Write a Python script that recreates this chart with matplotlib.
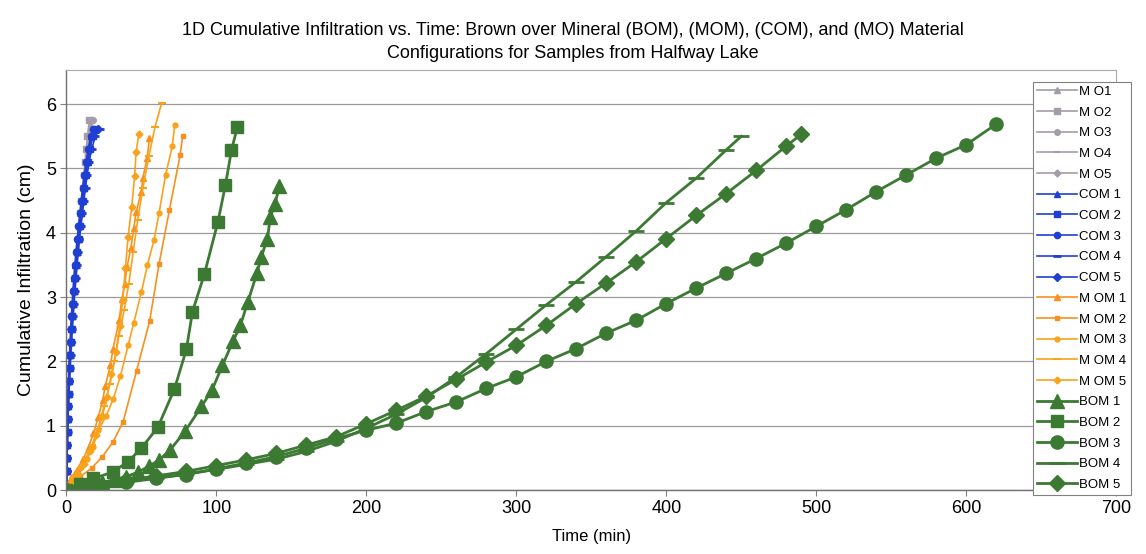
import matplotlib
matplotlib.use("Agg")
import matplotlib.pyplot as plt

plt.rcParams['font.family'] = ['Liberation Sans', 'DejaVu Sans']

# MO samples (grey), cumulative infiltration (cm) vs time (min)
mo_y = [0.1, 0.3, 0.5, 0.7, 0.9, 1.1, 1.3, 1.5, 1.7, 1.9, 2.1, 2.3, 2.5, 2.7, 2.9,
        3.1, 3.3, 3.5, 3.7, 3.9, 4.1, 4.3, 4.5, 4.7, 4.9, 5.1, 5.3, 5.5, 5.75]
mo1_t = [0, 0.2, 0.3, 0.5, 0.7, 0.9, 1.2, 1.5, 1.9, 2.3, 2.7, 3.2, 3.7, 4.2, 4.8,
         5.4, 6.0, 6.7, 7.4, 8.2, 9.0, 9.8, 10.6, 11.4, 12.2, 13.0, 13.9, 14.8, 16.2]
mo2_t = [0, 0.1, 0.2, 0.4, 0.6, 0.8, 1.0, 1.3, 1.6, 2.0, 2.4, 2.8, 3.3, 3.8, 4.3,
         4.9, 5.5, 6.1, 6.8, 7.5, 8.3, 9.1, 9.9, 10.7, 11.5, 12.3, 13.1, 14.0, 15.3]
mo3_t = [0, 0.2, 0.4, 0.6, 0.8, 1.0, 1.3, 1.7, 2.1, 2.5, 3.0, 3.5, 4.0, 4.6, 5.2,
         5.8, 6.5, 7.2, 8.0, 8.8, 9.6, 10.4, 11.3, 12.2, 13.1, 14.0, 15.0, 16.1, 17.5]
mo4_t = [0, 0.1, 0.3, 0.4, 0.6, 0.8, 1.1, 1.4, 1.8, 2.2, 2.6, 3.0, 3.5, 4.0, 4.6,
         5.2, 5.9, 6.6, 7.3, 8.1, 8.9, 9.7, 10.5, 11.3, 12.1, 13.0, 14.0, 15.0, 16.4]
mo5_t = [0, 0.2, 0.3, 0.5, 0.7, 1.0, 1.3, 1.6, 2.0, 2.4, 2.9, 3.4, 3.9, 4.4, 5.0,
         5.6, 6.3, 7.0, 7.8, 8.6, 9.4, 10.2, 11.0, 11.9, 12.8, 13.7, 14.6, 15.6, 17.0]

# COM samples (blue)
com_y = [0.1, 0.3, 0.5, 0.7, 0.9, 1.1, 1.3, 1.5, 1.7, 1.9, 2.1, 2.3, 2.5, 2.7, 2.9,
         3.1, 3.3, 3.5, 3.7, 3.9, 4.1, 4.3, 4.5, 4.7, 4.9, 5.1, 5.3, 5.5, 5.62]
com1_t = [0, 0.1, 0.2, 0.3, 0.5, 0.7, 0.9, 1.2, 1.5, 1.9, 2.3, 2.7, 3.1, 3.6, 4.1,
          4.7, 5.3, 6.0, 6.8, 7.7, 8.6, 9.5, 10.4, 11.4, 12.4, 13.5, 14.8, 16.5, 18.5]
com2_t = [0, 0.2, 0.3, 0.5, 0.7, 0.9, 1.1, 1.4, 1.7, 2.1, 2.5, 2.9, 3.4, 3.9, 4.5,
          5.1, 5.8, 6.5, 7.3, 8.2, 9.1, 10.0, 11.0, 12.0, 13.1, 14.3, 15.7, 17.4, 19.5]
com3_t = [0, 0.1, 0.1, 0.2, 0.4, 0.5, 0.7, 1.0, 1.3, 1.6, 2.0, 2.4, 2.8, 3.3, 3.8,
          4.3, 4.9, 5.6, 6.3, 7.1, 8.0, 8.9, 9.8, 10.8, 11.9, 13.1, 14.5, 16.2, 18.0]
com4_t = [0, 0.2, 0.4, 0.6, 0.8, 1.0, 1.3, 1.6, 2.0, 2.4, 2.8, 3.3, 3.8, 4.3, 4.9,
          5.5, 6.2, 6.9, 7.7, 8.6, 9.6, 10.6, 11.6, 12.7, 13.8, 15.1, 16.8, 19.2, 22.5]
com5_t = [0, 0.1, 0.3, 0.4, 0.6, 0.8, 1.0, 1.3, 1.6, 2.0, 2.4, 2.8, 3.2, 3.7, 4.3,
          4.9, 5.6, 6.3, 7.0, 7.9, 8.8, 9.8, 10.8, 11.9, 13.0, 14.2, 15.6, 17.5, 20.8]

# MOM samples (orange)
mom1_t = [0, 2.2, 6.7, 11.3, 14.7, 18, 21.3, 24.2, 25.8, 29.3, 31.1, 35.1, 37, 38.9,
          40.4, 42.9, 44.9, 46.4, 50, 50.9, 53.8, 55.3]
mom1_y = [0, 0.16, 0.31, 0.49, 0.67, 0.88, 1.14, 1.4, 1.61, 1.94, 2.2, 2.64, 2.97, 3.21,
          3.47, 3.76, 4.07, 4.32, 4.64, 4.85, 5.16, 5.47]
mom2_t = [0, 2, 8.9, 16.7, 24, 31.1, 37.8, 46.7, 55.5, 61.7, 68.7, 75.8, 77.5]
mom2_y = [0, 0.1, 0.2, 0.34, 0.52, 0.75, 1.06, 1.85, 2.63, 3.51, 4.36, 5.21, 5.5]
mom3_t = [0, 4, 8.9, 13.6, 17.6, 21.3, 26.4, 31.1, 36, 41.1, 44.9, 50, 54, 58.4, 61.7,
          66.1, 70.6, 72.2]
mom3_y = [0, 0.2, 0.34, 0.49, 0.67, 0.93, 1.15, 1.41, 1.77, 2.25, 2.6, 3.08, 3.5, 3.89,
          4.3, 4.9, 5.35, 5.68]
mom4_t = [0, 5, 9, 13, 17, 21, 25, 29, 32, 35, 38.5, 41.5, 44.5, 47.5, 51, 55, 59, 63.5]
mom4_y = [0, 0.18, 0.32, 0.5, 0.7, 0.95, 1.3, 1.65, 2.0, 2.4, 2.8, 3.2, 3.7, 4.2, 4.7,
          5.2, 5.64, 6.02]
mom5_t = [0, 4, 8, 12, 16, 20, 24, 27, 30, 33, 35.5, 37.5, 39.3, 41.1, 43.5, 45.5,
          46.4, 48.2]
mom5_y = [0, 0.12, 0.25, 0.4, 0.6, 0.85, 1.15, 1.45, 1.8, 2.15, 2.55, 2.95, 3.45, 3.94,
          4.4, 4.89, 5.25, 5.53]

# BOM samples (green)
bom1_t = [0, 8, 16, 24, 32, 40, 48, 55, 62, 69, 79, 90, 97, 104, 111, 116, 121, 127,
          130, 134, 136, 139, 142]
bom1_y = [0, 0.04, 0.08, 0.12, 0.16, 0.21, 0.28, 0.37, 0.47, 0.62, 0.91, 1.3, 1.55,
          1.94, 2.31, 2.56, 2.93, 3.37, 3.63, 3.91, 4.25, 4.45, 4.72]
bom2_t = [0, 9, 18, 31, 41, 50, 61, 72, 80, 84, 92, 101, 106, 110, 114]
bom2_y = [0, 0.1, 0.18, 0.28, 0.44, 0.65, 0.98, 1.57, 2.19, 2.77, 3.36, 4.17, 4.74,
          5.28, 5.65]
bom3_t = [0, 20, 40, 60, 80, 100, 120, 140, 160, 180, 200, 220, 240, 260, 280, 300,
          320, 340, 360, 380, 400, 420, 440, 460, 480, 500, 520, 540, 560, 580, 600, 620]
bom3_y = [0, 0.07, 0.13, 0.19, 0.24, 0.33, 0.42, 0.52, 0.65, 0.8, 0.93, 1.04, 1.22,
          1.37, 1.58, 1.76, 2.0, 2.2, 2.44, 2.64, 2.9, 3.14, 3.37, 3.6, 3.84, 4.1,
          4.36, 4.64, 4.9, 5.16, 5.37, 5.69]
bom4_t = [0, 20, 40, 60, 80, 100, 120, 140, 160, 180, 200, 220, 240, 260, 280, 300,
          320, 340, 360, 380, 400, 420, 440, 450]
bom4_y = [0, 0.06, 0.12, 0.18, 0.25, 0.32, 0.4, 0.48, 0.6, 0.76, 0.96, 1.18, 1.44,
          1.76, 2.12, 2.5, 2.88, 3.24, 3.63, 4.03, 4.47, 4.85, 5.29, 5.5]
bom5_t = [0, 20, 40, 60, 80, 100, 120, 140, 160, 180, 200, 220, 240, 260, 280, 300,
          320, 340, 360, 380, 400, 420, 440, 460, 480, 490]
bom5_y = [0, 0.08, 0.15, 0.22, 0.29, 0.38, 0.47, 0.57, 0.7, 0.83, 1.03, 1.24, 1.46,
          1.72, 1.99, 2.25, 2.56, 2.9, 3.22, 3.55, 3.91, 4.27, 4.61, 4.97, 5.35, 5.53]

grey = '#A59BAA'
blue = '#1F3FD2'
orange1 = '#F7901E'
orange2 = '#F9A21B'
green = '#3C7A34'

fig = plt.figure(figsize=(11.46, 5.54), dpi=100)
ax = fig.add_axes([0.058, 0.1155, 0.916, 0.758])

# MO
ax.plot(mo1_t, mo_y, color=grey, lw=1.2, marker='^', ms=4, label='M O1')
ax.plot(mo2_t, mo_y, color=grey, lw=1.2, marker='s', ms=4, label='M O2')
ax.plot(mo3_t, mo_y, color=grey, lw=1.2, marker='o', ms=4, label='M O3')
ax.plot(mo4_t, mo_y, color=grey, lw=1.2, marker='_', ms=5, mew=1.5, label='M O4')
ax.plot(mo5_t, mo_y, color=grey, lw=1.2, marker='D', ms=3.5, label='M O5')

# COM
ax.plot(com1_t, com_y, color=blue, lw=1.2, marker='^', ms=5, label='COM 1')
ax.plot(com2_t, com_y, color=blue, lw=1.2, marker='s', ms=4.5, label='COM 2')
ax.plot(com3_t, com_y, color=blue, lw=1.2, marker='o', ms=4.5, label='COM 3')
ax.plot(com4_t, com_y, color=blue, lw=1.2, marker='_', ms=6, mew=2, label='COM 4')
ax.plot(com5_t, com_y, color=blue, lw=1.2, marker='D', ms=4.5, label='COM 5')

# MOM
ax.plot(mom1_t, mom1_y, color=orange1, lw=1.2, marker='^', ms=4, label='M OM 1')
ax.plot(mom2_t, mom2_y, color=orange1, lw=1.2, marker='s', ms=3.5, label='M OM 2')
ax.plot(mom3_t, mom3_y, color=orange2, lw=1.2, marker='o', ms=3.5, label='M OM 3')
ax.plot(mom4_t, mom4_y, color=orange2, lw=1.2, marker='_', ms=6, mew=1.5, label='M OM 4')
ax.plot(mom5_t, mom5_y, color=orange2, lw=1.2, marker='D', ms=3.5, label='M OM 5')

# BOM
ax.plot(bom1_t, bom1_y, color=green, lw=2, marker='^', ms=9.5, label='BOM 1')
ax.plot(bom2_t, bom2_y, color=green, lw=2, marker='s', ms=9, label='BOM 2')
ax.plot(bom3_t, bom3_y, color=green, lw=2, marker='o', ms=9.5, label='BOM 3')
ax.plot(bom4_t, bom4_y, color=green, lw=2, marker='_', ms=11, mew=2, label='BOM 4')
ax.plot(bom5_t, bom5_y, color=green, lw=2, marker='D', ms=8, label='BOM 5')

ax.set_xlim(0, 700)
ax.set_ylim(0, 6.53)
ax.set_xticks(range(0, 701, 100))
ax.set_yticks(range(0, 7))
ax.tick_params(labelsize=13, length=4, color='#808080', width=0.8)
ax.grid(axis='y', color='#9A9A9A', lw=0.9)
ax.set_axisbelow(True)
for side in ['top', 'right']:
    ax.spines[side].set_color('#AAAAAA')
    ax.spines[side].set_linewidth(0.8)
for side in ['left', 'bottom']:
    ax.spines[side].set_color('#707070')
    ax.spines[side].set_linewidth(1.0)

ax.set_xlabel('Time (min)', fontsize=12, labelpad=8)
ax.set_ylabel('Cumulative Infiltration (cm)', fontsize=14, labelpad=8)
fig.suptitle('1D Cumulative Infiltration vs. Time: Brown over Mineral (BOM), (MOM), (COM), and (MO) Material\n'
             'Configurations for Samples from Halfway Lake', fontsize=13, y=0.96, linespacing=1.45)

leg = ax.legend(loc='upper left', bbox_to_anchor=(0.921, 0.972), fontsize=9.5,
                frameon=True, fancybox=False, edgecolor='#808080', framealpha=1,
                handlelength=3.0, handletextpad=0.2, labelspacing=0.64,
                borderpad=0.3, borderaxespad=0)
leg.get_frame().set_linewidth(0.8)

fig.savefig('out.png', dpi=100)
